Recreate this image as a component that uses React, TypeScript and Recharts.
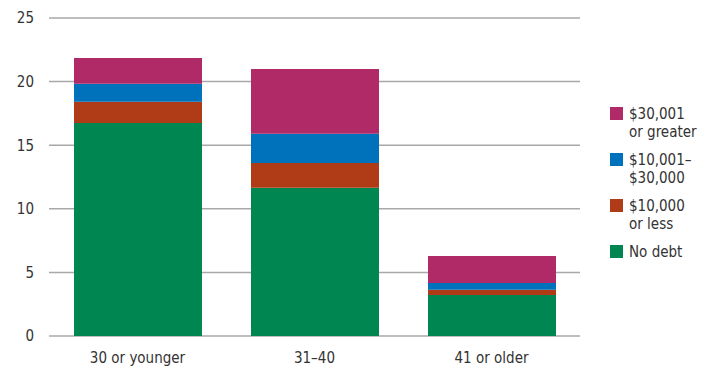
import { Bar, BarChart, CartesianGrid, XAxis, YAxis } from "recharts";

if (typeof document !== "undefined") document.body.style.margin = "0";

const categories = ["30 or younger", "31–40", "41 or older"];
const noDebt = [16.75, 11.66, 3.22];
const upTo10k = [1.67, 1.94, 0.42];
const from10kTo30k = [1.42, 2.3, 0.53];
const over30k = [2.02, 5.09, 2.12];
const yTicks = [0, 5, 10, 15, 20, 25];

const series = [
  { key: "over30k", lines: ["$30,001", "or greater"], color: "#b12a68" },
  { key: "from10kTo30k", lines: ["$10,001–", "$30,000"], color: "#0071bb" },
  { key: "upTo10k", lines: ["$10,000", "or less"], color: "#b03c17" },
  { key: "noDebt", lines: ["No debt"], color: "#008651" },
];

const data = categories.map((name, i) => ({
  name,
  noDebt: noDebt[i],
  upTo10k: upTo10k[i],
  from10kTo30k: from10kTo30k[i],
  over30k: over30k[i],
}));

const font = "'Liberation Sans Narrow', 'DejaVu Sans Condensed', sans-serif";

function LegendBox() {
  return (
    <div
      style={{
        position: "absolute",
        left: 610,
        top: 105,
        fontFamily: font,
        fontSize: 15,
        color: "#333",
        lineHeight: "18px",
      }}
    >
      {series.map((s) => (
        <div key={s.key} style={{ display: "flex", alignItems: "flex-start", marginBottom: 10 }}>
          <div style={{ width: 13, height: 13, background: s.color, marginTop: 2, marginRight: 6 }} />
          <div>
            {s.lines.map((l) => (
              <div key={l}>{l}</div>
            ))}
          </div>
        </div>
      ))}
    </div>
  );
}

export default function App() {
  return (
    <div style={{ position: "relative", width: 706, height: 367, background: "#fff" }}>
      <BarChart
        width={706}
        height={367}
        data={data}
        margin={{ top: 18, right: 126, bottom: 1, left: 0 }}
        barSize={128}
      >
        <CartesianGrid vertical={false} stroke="#a8a8a8" strokeWidth={1.5} />
        <XAxis
          dataKey="name"
          height={30}
          axisLine={false}
          tickLine={false}
          tickSize={0}
          tickMargin={16}
          tick={{ fill: "#333", fontSize: 15, fontFamily: font }}
        />
        <YAxis
          width={49}
          domain={[0, 25]}
          ticks={yTicks}
          axisLine={false}
          tickLine={false}
          tickSize={0}
          tickMargin={15}
          tick={{ fill: "#333", fontSize: 15, fontFamily: font }}
        />
        {[...series].reverse().map((s) => (
          <Bar
            key={s.key}
            dataKey={s.key}
            stackId="a"
            fill={s.color}
            isAnimationActive={false}
          />
        ))}
      </BarChart>
      <LegendBox />
    </div>
  );
}
